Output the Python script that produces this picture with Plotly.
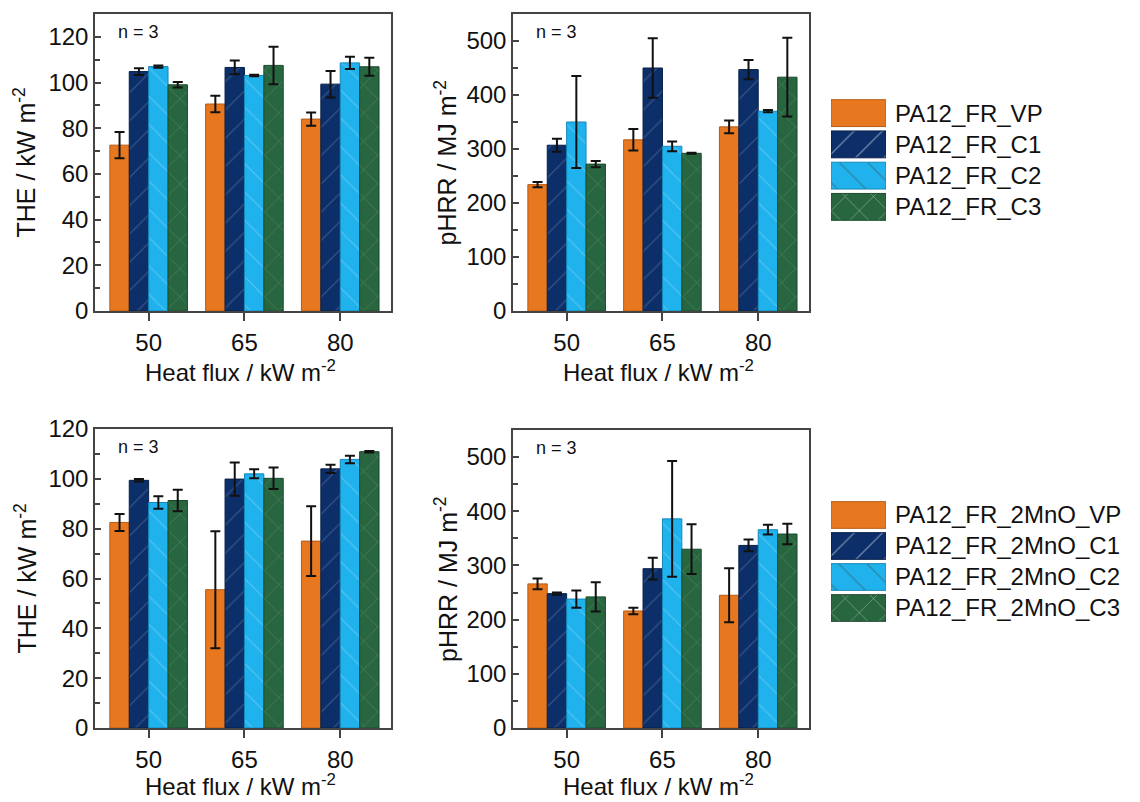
import plotly.graph_objects as go

# ---------------- data ----------------
heat_flux = ["50", "65", "80"]
series_fr = ["PA12_FR_VP", "PA12_FR_C1", "PA12_FR_C2", "PA12_FR_C3"]
series_mno = ["PA12_FR_2MnO_VP", "PA12_FR_2MnO_C1", "PA12_FR_2MnO_C2", "PA12_FR_2MnO_C3"]

# rows: VP, C1, C2, C3 ; columns: 50, 65, 80 kW m-2
THE_fr = [[72.6, 90.6, 84.0], [104.8, 106.6, 99.3], [107.0, 103.1, 108.6], [99.0, 107.5, 106.9]]
THE_fr_err = [[5.7, 3.6, 2.9], [1.5, 3.0, 5.8], [0.5, 0.3, 2.7], [1.2, 8.2, 3.9]]
pHRR_fr = [[234, 317, 341], [307, 450, 447], [350, 305, 370], [272, 292, 433]]
pHRR_fr_err = [[5, 20, 12], [12, 55, 18], [85, 9, 2], [6, 1, 73]]
THE_mno = [[82.5, 55.5, 75.0], [99.4, 99.9, 104.0], [90.5, 102.0, 107.8], [91.3, 100.2, 110.9]]
THE_mno_err = [[3.4, 23.5, 14.0], [0.5, 6.7, 1.7], [2.5, 1.8, 1.5], [4.3, 4.3, 0.3]]
pHRR_mno = [[266, 216, 245], [248, 294, 337], [238, 386, 366], [242, 330, 358]]
pHRR_mno_err = [[10, 6, 50], [2, 20, 11], [16, 107, 9], [27, 46, 19]]

# ---------------- styles ----------------
W, H = 1140, 802
FONT = "Liberation Sans, Arial, sans-serif"
TXT = "#111111"
colors = ["#E8781F", "#0C2F6A", "#1FB2EC", "#28663F"]
edges = ["#B85A12", "#071E48", "#1488BA", "#1A4A2C"]
shapes = ["", "/", "\\", "x"]
fgcols = ["rgba(0,0,0,0)", "rgba(255,255,255,0.38)", "rgba(255,255,255,0.5)", "rgba(200,235,210,0.5)"]


def px_x(p):
    return p / W


def px_y(p):
    return 1 - p / H


panels = [
    # (values, errors, x-domain px, y-domain px (top,bottom), yrange, dtick, minor, ytitle, ytitle x px, xtitle offset px)
    (THE_fr, THE_fr_err, (95, 391), (14, 311), [0, 130], 20, 10, "THE / kW m<sup>-2</sup>", 25, 60),
    (pHRR_fr, pHRR_fr_err, (513, 809), (14, 311), [0, 550], 100, 50, "pHRR / MJ m<sup>-2</sup>", 446, 60),
    (THE_mno, THE_mno_err, (95, 391), (429, 728), [0, 120], 20, 10, "THE / kW m<sup>-2</sup>", 25, 57),
    (pHRR_mno, pHRR_mno_err, (513, 809), (430, 728), [0, 550], 100, 50, "pHRR / MJ m<sup>-2</sup>", 446, 57),
]

fig = go.Figure()
layout = dict(
    width=W, height=H, margin=dict(l=0, r=0, t=0, b=0, pad=0, autoexpand=False),
    paper_bgcolor="white", plot_bgcolor="white",
    barmode="group", bargap=0.19, bargroupgap=0.0,
    showlegend=False, font=dict(family=FONT, size=24, color=TXT),
)
annotations = []

names_all = [series_fr, series_fr, series_mno, series_mno]
for i, (vals, errs, xd, yd, yr, dt, mn, ytitle, ytx, xto) in enumerate(panels, start=1):
    xa = "x" if i == 1 else f"x{i}"
    ya = "y" if i == 1 else f"y{i}"
    for s in range(4):
        fig.add_trace(go.Bar(
            x=heat_flux, y=vals[s], name=names_all[i - 1][s],
            xaxis=xa, yaxis=ya,
            marker=dict(color=colors[s], line=dict(color=edges[s], width=1),
                        pattern=dict(shape=shapes[s], size=20, solidity=0.06,
                                     fgcolor=fgcols[s], fillmode="overlay")),
            error_y=dict(type="data", array=errs[s], color="#111111", thickness=2, width=5),
        ))
    layout["xaxis" if i == 1 else f"xaxis{i}"] = dict(
        domain=[px_x(xd[0]), px_x(xd[1])], anchor=ya, automargin=False,
        type="category", range=[-0.56, 2.53],
        showline=True, linecolor="#444444", linewidth=1.5, mirror=True,
        ticks="outside", ticklen=8, tickwidth=1.5, tickcolor="#444444",
        tickfont=dict(size=24, family=FONT, color=TXT), ticklabelstandoff=1,
        showgrid=False, zeroline=False, fixedrange=True,
    )
    layout["yaxis" if i == 1 else f"yaxis{i}"] = dict(
        domain=[px_y(yd[1]), px_y(yd[0])], anchor=xa, automargin=False,
        range=yr, dtick=dt, tick0=0,
        showline=True, linecolor="#444444", linewidth=1.5, mirror=True,
        ticks="inside", ticklen=6, tickwidth=1.5, tickcolor="#444444",
        minor=dict(dtick=mn, ticks="inside", ticklen=5, tickwidth=1.5, tickcolor="#444444"),
        tickfont=dict(size=24, family=FONT, color=TXT),
        showgrid=False, zeroline=False, fixedrange=True,
    )
    # y title
    annotations.append(dict(
        text=ytitle, textangle=-90, xref="paper", yref="paper",
        x=px_x(ytx), y=px_y((yd[0] + yd[1]) / 2), xanchor="center", yanchor="middle",
        showarrow=False, font=dict(size=25, family=FONT, color=TXT)))
    # x title
    annotations.append(dict(
        text="Heat flux / kW m<sup>-2</sup>", xref="paper", yref="paper",
        x=px_x((xd[0] + xd[1]) / 2 - 3), y=px_y(yd[1] + xto), xanchor="center", yanchor="middle",
        showarrow=False, font=dict(size=24, family=FONT, color=TXT)))
    # n = 3
    annotations.append(dict(
        text="n = 3", xref="paper", yref="paper",
        x=px_x(xd[0] + 21), y=px_y(yd[0] + 18), xanchor="left", yanchor="middle",
        showarrow=False, font=dict(size=18, family=FONT, color=TXT)))

# ---------------- legends (patterned swatches drawn as bars) ----------------
legend_specs = [
    (series_fr, 5, (97.5, 222.5)),
    (series_mno, 6, (499.5, 623.5)),
]
for names, k, (ytop, ybot) in legend_specs:
    fig.add_trace(go.Bar(
        y=names, x=[1, 1, 1, 1], orientation="h", width=0.86,
        xaxis=f"x{k}", yaxis=f"y{k}", hoverinfo="skip",
        marker=dict(color=colors, line=dict(color=edges, width=1),
                    pattern=dict(shape=shapes, size=20, solidity=0.06,
                                 fgcolor=fgcols, fillmode="overlay")),
    ))
    layout[f"xaxis{k}"] = dict(domain=[px_x(831), px_x(886)], anchor=f"y{k}", range=[0, 1],
                               visible=False, fixedrange=True, automargin=False)
    layout[f"yaxis{k}"] = dict(domain=[px_y(ybot), px_y(ytop)], anchor=f"x{k}", automargin=False,
                               type="category", autorange="reversed", side="right",
                               showline=False, showgrid=False, zeroline=False, ticks="",
                               tickfont=dict(size=24, family=FONT, color=TXT),
                               ticklabelstandoff=8, fixedrange=True)

layout["annotations"] = annotations
fig.update_layout(**layout)
fig.write_html("out.html")
